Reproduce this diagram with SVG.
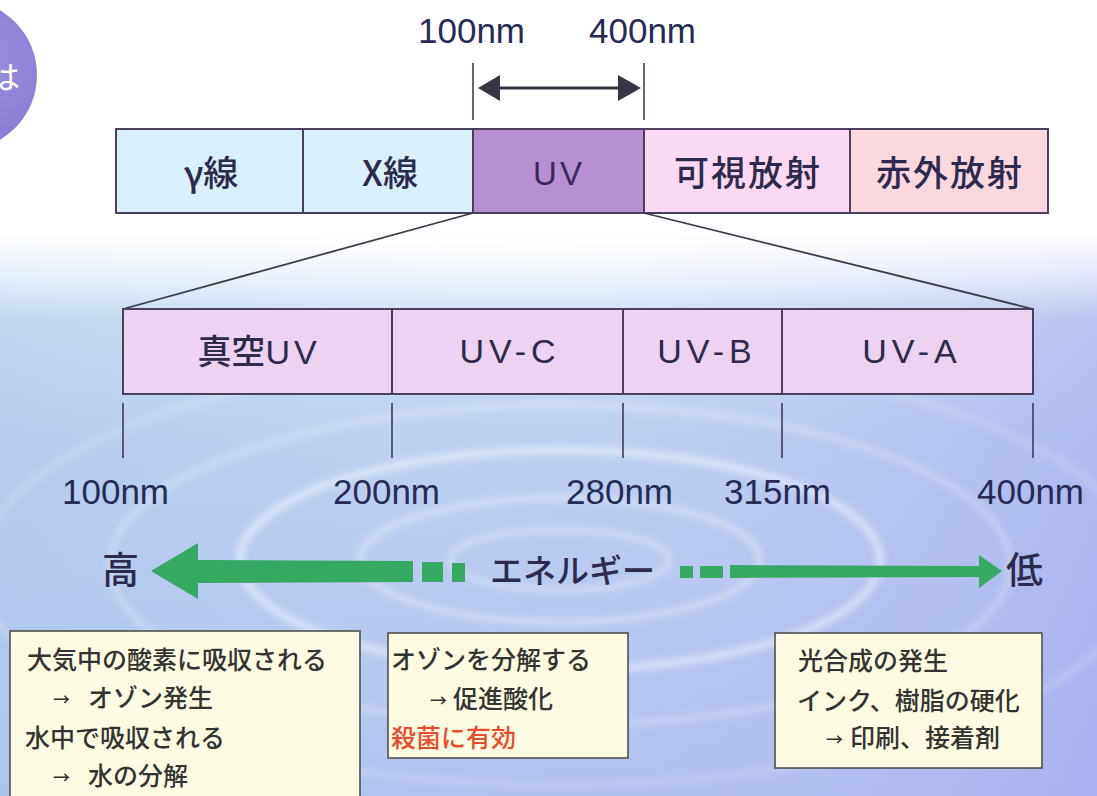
<svg xmlns="http://www.w3.org/2000/svg" width="1097" height="796" viewBox="0 0 1097 796">
  <defs>
    <linearGradient id="bgv" x1="0" y1="0" x2="0" y2="1">
      <stop offset="0" stop-color="#ffffff"/>
      <stop offset="0.29" stop-color="#ffffff"/>
      <stop offset="0.38" stop-color="#cfe0f5"/>
      <stop offset="0.55" stop-color="#b7cbf1"/>
      <stop offset="1" stop-color="#a9b8ee"/>
    </linearGradient>
    <linearGradient id="bgh" x1="0" y1="0" x2="1" y2="0">
      <stop offset="0" stop-color="#b3d0ee" stop-opacity="0.5"/>
      <stop offset="0.5" stop-color="#d6e3f8" stop-opacity="0.2"/>
      <stop offset="1" stop-color="#a6aaee" stop-opacity="0.5"/>
    </linearGradient>
    <linearGradient id="fade" x1="0" y1="0" x2="0" y2="1">
      <stop offset="0" stop-color="#ffffff" stop-opacity="1"/>
      <stop offset="1" stop-color="#ffffff" stop-opacity="0"/>
    </linearGradient>
    <radialGradient id="circ" cx="0.6" cy="0.4" r="0.7">
      <stop offset="0" stop-color="#9d90e0"/>
      <stop offset="1" stop-color="#8676d2"/>
    </radialGradient>
    <filter id="blur" x="-20%" y="-50%" width="140%" height="200%">
      <feGaussianBlur stdDeviation="3"/>
    </filter>
    <style>
      .bar { stroke: #4a3f5c; stroke-width: 2; }
      .cjk { font-family: "Noto Sans CJK JP", "Noto Sans", sans-serif; font-weight: 500; fill: #2d2a4e; }
      .lat { font-family: "Liberation Sans", Arial, sans-serif; fill: #2d2a4e; }
      .uvt { fill: #3a2a5c; }
      .nm { font-family: "Liberation Sans", Arial, sans-serif; font-size: 35px; fill: #262a55; }
      .tick { stroke: #3d3a5a; stroke-width: 1.6; fill: none; }
      .box { fill: #fdfbe1; stroke: #4f4f4f; stroke-width: 1.6; }
      .bt { font-family: "Noto Sans CJK JP", "Noto Sans", sans-serif; font-weight: 500; font-size: 25px; fill: #333333; }
      .red { fill: #ea4a2c; }
      .ar { font-size: 17px; }
      .green { fill: #35a862; }
      .ripple { fill: none; stroke: #ffffff; filter: url(#blur); }
    </style>
  </defs>

  <!-- background -->
  <rect x="0" y="0" width="1097" height="796" fill="url(#bgv)"/>
  <rect x="0" y="0" width="1097" height="796" fill="url(#bgh)"/>
  <g id="ripples">
    <ellipse class="ripple" cx="560" cy="560" rx="110" ry="30" stroke-width="5" stroke-opacity="0.35"/>
    <ellipse class="ripple" cx="560" cy="560" rx="200" ry="62" stroke-width="6" stroke-opacity="0.35"/>
    <ellipse class="ripple" cx="560" cy="560" rx="320" ry="110" stroke-width="8" stroke-opacity="0.45"/>
    <ellipse class="ripple" cx="560" cy="565" rx="450" ry="160" stroke-width="6" stroke-opacity="0.28"/>
    <ellipse class="ripple" cx="560" cy="570" rx="580" ry="215" stroke-width="5" stroke-opacity="0.22"/>
  </g>
  <rect x="0" y="0" width="1097" height="232" fill="#ffffff"/>
  <rect x="0" y="231" width="1097" height="90" fill="url(#fade)"/>

  <!-- top-left badge -->
  <g id="badge">
    <circle cx="-38" cy="75" r="75" fill="url(#circ)"/>
    <text x="-12" y="89" font-family="'Noto Sans CJK JP', sans-serif" font-size="32" fill="#ffffff">は</text>
  </g>

  <!-- range labels and arrow -->
  <g id="range">
    <text class="nm" x="418" y="43">100nm</text>
    <text class="nm" x="589" y="43">400nm</text>
    <line class="tick" x1="473" y1="63" x2="473" y2="120"/>
    <line class="tick" x1="644" y1="63" x2="644" y2="120"/>
    <line x1="495" y1="88" x2="622" y2="88" stroke="#3a3344" stroke-width="3"/>
    <polygon points="478,88 500,75 500,101" fill="#3a3344"/>
    <polygon points="641,88 618,75 618,101" fill="#3a3344"/>
  </g>

  <!-- top spectrum bar -->
  <g id="gamma">
    <rect class="bar" x="116" y="129" width="187" height="84" fill="#d9f0fa"/>
    <text class="cjk" x="211" y="186" font-size="35" text-anchor="middle">γ線</text>
  </g>
  <g id="xray">
    <rect class="bar" x="303" y="129" width="170" height="84" fill="#d9f0fa"/>
    <text class="cjk" x="390" y="186" font-size="35" text-anchor="middle">X線</text>
  </g>
  <g id="uv">
    <rect class="bar" x="473" y="129" width="171" height="84" fill="#b690d2"/>
    <text class="lat uvt" x="559" y="185" font-size="33" letter-spacing="3" text-anchor="middle">UV</text>
  </g>
  <g id="visible">
    <rect class="bar" x="644" y="129" width="206" height="84" fill="#fbd9f3"/>
    <text class="cjk" x="748" y="186" font-size="35" letter-spacing="2" text-anchor="middle">可視放射</text>
  </g>
  <g id="infrared">
    <rect class="bar" x="850" y="129" width="198" height="84" fill="#fbd7de"/>
    <text class="cjk" x="950" y="186" font-size="35" letter-spacing="2" text-anchor="middle">赤外放射</text>
  </g>

  <!-- connectors (expansion lines) -->
  <g id="connectors">
    <line x1="473" y1="213" x2="123" y2="309" stroke="#3d3a4e" stroke-width="1.8"/>
    <line x1="644" y1="213" x2="1033" y2="309" stroke="#3d3a4e" stroke-width="1.8"/>
  </g>

  <!-- bottom UV bar -->
  <g id="vuv">
    <rect class="bar" x="123" y="309" width="269" height="85" fill="#ebd3f1"/>
    <text class="cjk" x="259" y="364" font-size="34" text-anchor="middle">真空<tspan class="lat" letter-spacing="4">UV</tspan></text>
  </g>
  <g id="uvc">
    <rect class="bar" x="392" y="309" width="231" height="85" fill="#ebd3f1"/>
    <text class="lat" x="510" y="363" font-size="34" letter-spacing="5" text-anchor="middle">UV-C</text>
  </g>
  <g id="uvb">
    <rect class="bar" x="623" y="309" width="159" height="85" fill="#ebd3f1"/>
    <text class="lat" x="707" y="363" font-size="34" letter-spacing="5" text-anchor="middle">UV-B</text>
  </g>
  <g id="uva">
    <rect class="bar" x="782" y="309" width="251" height="85" fill="#ebd3f1"/>
    <text class="lat" x="912" y="363" font-size="34" letter-spacing="5" text-anchor="middle">UV-A</text>
  </g>

  <!-- ticks and wavelength labels -->
  <g id="scale">
    <line class="tick" x1="123" y1="403" x2="123" y2="458"/>
    <line class="tick" x1="392" y1="403" x2="392" y2="458"/>
    <line class="tick" x1="623" y1="403" x2="623" y2="458"/>
    <line class="tick" x1="782" y1="403" x2="782" y2="458"/>
    <line class="tick" x1="1033" y1="403" x2="1033" y2="458"/>
    <text class="nm" x="62" y="504">100nm</text>
    <text class="nm" x="333" y="504">200nm</text>
    <text class="nm" x="566" y="504">280nm</text>
    <text class="nm" x="724" y="504">315nm</text>
    <text class="nm" x="977" y="504">400nm</text>
  </g>

  <!-- energy arrow -->
  <g id="energy">
    <polygon class="green" points="151,571 198,543 198,560 413,561 413,582 198,583 198,599"/>
    <rect class="green" x="422" y="562" width="21" height="20"/>
    <rect class="green" x="452" y="563" width="13" height="19"/>
    <text class="cjk" x="490" y="583" font-size="33">エネルギー</text>
    <rect class="green" x="680" y="566" width="13" height="12"/>
    <rect class="green" x="700" y="566" width="23" height="12"/>
    <polygon class="green" points="730,565 979,566 979,555 1002,571 979,588 979,577 730,578"/>
    <text class="cjk" x="102" y="584" font-size="37">高</text>
    <text class="cjk" x="1006" y="584" font-size="37">低</text>
  </g>

  <!-- description boxes -->
  <g id="box1">
    <rect class="box" x="10" y="631" width="350" height="175"/>
    <text class="bt" x="27" y="669">大気中の酸素に吸収される</text>
    <text class="bt" x="53" y="706"><tspan class="ar">→</tspan><tspan x="88" y="707">オゾン発生</tspan></text>
    <text class="bt" x="25" y="747">水中で吸収される</text>
    <text class="bt" x="53" y="784"><tspan class="ar">→</tspan><tspan x="88" y="785">水の分解</tspan></text>
  </g>
  <g id="box2">
    <rect class="box" x="388" y="633" width="240" height="125"/>
    <text class="bt" x="391" y="669">オゾンを分解する</text>
    <text class="bt" x="430" y="707"><tspan class="ar">→</tspan><tspan x="453" y="708">促進酸化</tspan></text>
    <text class="bt red" x="391" y="747">殺菌に有効</text>
  </g>
  <g id="box3">
    <rect class="box" x="775" y="633" width="267" height="135"/>
    <text class="bt" x="798" y="670">光合成の発生</text>
    <text class="bt" x="797" y="710">インク、樹脂の硬化</text>
    <text class="bt" x="826" y="746"><tspan class="ar">→</tspan><tspan x="850" y="747">印刷、接着剤</tspan></text>
  </g>
</svg>
